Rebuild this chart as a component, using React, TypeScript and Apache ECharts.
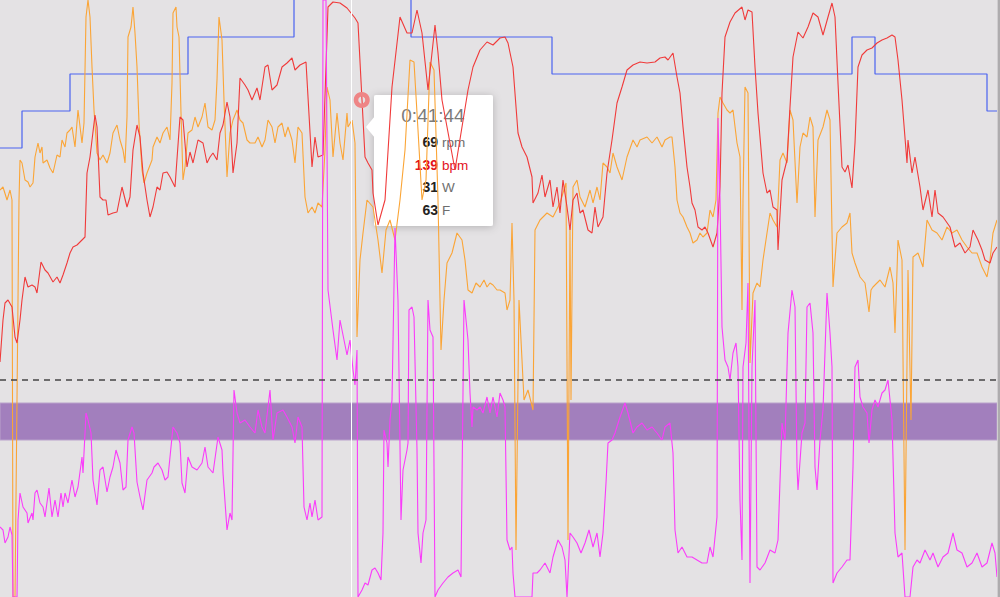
import React, { useEffect, useRef } from "react";
import * as echarts from "echarts";

// time axis: seconds since the start of the visible window (window starts at 0:18:20)
const HR: [number, number][] = [
[0,112.8],[12,117.0],[20,118.7],[32,119.0],[48,118.3],[60,115.3],[68,114.7],[80,117.0],[88,119.0],[100,121.3],[112,120.3],[128,120.5],[140,120.3],[148,119.7],[164,122.8],[180,122.0],[192,121.7],[212,120.8],[228,121.3],[240,120.7],[252,121.5],[268,122.7],[280,123.7],[292,124.3],[308,124.5],[328,125.0],[340,125.3],[348,131.7],[360,133.3],[380,137.5],[388,136.3],[400,129.3],[412,129.0],[424,129.0],[432,127.5],[452,127.7],[468,127.8],[488,130.3],[508,128.3],[520,129.3],[532,134.0],[548,136.5],[560,135.3],[572,131.7],[588,129.0],[600,127.3],[612,128.3],[628,130.3],[640,130.0],[652,131.7],[668,131.8],[680,131.3],[700,130.3],[720,137.3],[732,137.0],[748,132.3],[760,133.8],[772,132.7],[792,135.0],[812,134.7],[828,132.7],[840,133.3],[852,133.7],[868,133.0],[880,135.7],[892,136.5],[908,138.8],[920,137.3],[932,131.7],[948,134.7],[960,141.2],[980,140.5],[992,140.0],[1008,139.0],[1028,140.2],[1040,139.0],[1060,142.3],[1072,142.5],[1088,140.0],[1108,140.5],[1128,142.3],[1148,142.7],[1168,143.2],[1180,142.0],[1200,142.5],[1224,142.8],[1248,132.3],[1260,135.3],[1272,133.3],[1292,133.5],[1312,148.3],[1332,148.8],[1360,148.7],[1388,148.2],[1420,147.2],[1432,146.7],[1448,139.0],[1460,133.3],[1472,132.7],[1488,132.0],[1492,129.7],[1512,126.5],[1540,129.0],[1568,140.3],[1600,147.3],[1628,145.7],[1648,145.7],[1668,148.0],[1688,145.7],[1712,140.0],[1740,146.5],[1752,143.7],[1768,139.0],[1820,132.0],[1872,140.0],[1892,142.3],[1920,144.0],[1948,144.8],[1972,144.5],[2000,145.2],[2020,145.3],[2032,144.7],[2052,142.3],[2072,135.7],[2088,134.3],[2108,133.3],[2128,131.3],[2132,128.7],[2152,129.7],[2168,131.5],[2180,129.3],[2200,131.0],[2212,128.3],[2228,130.3],[2240,127.7],[2252,131.0],[2268,128.3],[2280,126.0],[2292,129.0],[2308,129.7],[2320,127.7],[2332,128.0],[2352,126.0],[2368,125.7],[2380,128.3],[2392,126.3],[2412,127.3],[2428,131.7],[2448,135.0],[2468,138.7],[2488,140.3],[2508,142.0],[2532,142.5],[2560,142.8],[2588,142.7],[2620,142.8],[2640,143.2],[2660,143.3],[2672,143.0],[2692,143.7],[2708,141.3],[2720,139.7],[2732,136.3],[2748,132.3],[2760,130.3],[2768,128.7],[2780,128.0],[2792,126.3],[2808,126.0],[2820,126.3],[2832,125.7],[2852,124.3],[2868,125.7],[2880,130.3],[2888,139.7],[2900,145.3],[2920,146.8],[2940,147.7],[2968,148.3],[2980,147.0],[2992,148.0],[3008,147.8],[3020,142.3],[3032,137.7],[3052,131.7],[3068,129.7],[3080,130.0],[3092,128.3],[3108,128.0],[3112,124.0],[3128,131.0],[3148,133.0],[3160,138.3],[3172,143.3],[3192,145.8],[3212,145.2],[3232,146.3],[3252,147.7],[3272,147.3],[3292,145.5],[3312,147.3],[3328,148.7],[3340,147.3],[3352,140.7],[3368,132.3],[3380,131.8],[3392,132.5],[3408,130.2],[3420,134.7],[3432,142.3],[3448,143.5],[3468,144.0],[3488,144.2],[3508,144.7],[3528,145.0],[3548,145.2],[3568,145.5],[3580,145.3],[3592,143.0],[3608,139.0],[3628,132.7],[3632,135.0],[3648,131.7],[3660,133.3],[3680,130.3],[3692,128.0],[3712,130.0],[3728,127.3],[3740,130.0],[3752,127.7],[3772,127.3],[3800,126.3],[3820,124.3],[3840,124.7],[3860,123.7],[3880,124.3],[3892,126.0],[3912,125.0],[3928,124.0],[3940,123.0],[3960,122.7],[3972,123.7],[3988,124.3]
];

const CADENCE: [number, number][] = [
[0,81.4],[12,82.0],[28,79.4],[40,81.4],[48,79.4],[52,0],[60,0],[68,39.4],[76,79.4],[80,87.4],[88,86.8],[100,83.4],[112,83.0],[120,82.0],[132,82.8],[140,88.0],[152,90.8],[160,88.8],[168,90.0],[172,86.8],[188,87.4],[200,85.8],[212,84.8],[228,88.4],[240,88.0],[248,91.4],[260,90.0],[268,92.8],[280,93.4],[288,94.0],[300,90.0],[312,97.4],[328,90.8],[336,94.8],[344,116.0],[352,119.4],[360,116.0],[368,106.0],[376,97.4],[388,88.8],[400,87.4],[412,88.4],[428,86.8],[440,88.8],[452,92.8],[468,94.4],[480,91.4],[492,89.4],[500,86.8],[508,96.0],[512,112.0],[524,114.0],[532,118.0],[540,112.8],[548,106.0],[556,94.8],[568,85.4],[576,82.8],[588,84.8],[608,87.4],[612,90.0],[628,92.0],[640,90.8],[652,92.8],[668,94.0],[680,91.4],[688,102.8],[692,116.8],[704,118.0],[708,114.0],[716,112.0],[724,96.8],[732,83.4],[740,86.0],[752,92.8],[768,93.4],[780,96.0],[792,94.0],[808,96.0],[820,98.8],[832,94.0],[848,93.4],[860,95.4],[868,103.4],[876,116.0],[888,111.4],[896,99.4],[908,84.0],[920,92.8],[932,95.4],[948,97.4],[960,95.4],[972,94.8],[988,91.4],[1000,90.8],[1020,90.8],[1032,92.0],[1048,90.0],[1060,91.4],[1072,95.4],[1088,94.0],[1100,90.8],[1112,94.0],[1128,94.8],[1140,92.0],[1152,94.0],[1168,91.4],[1180,86.8],[1192,94.0],[1208,92.8],[1220,80.0],[1232,76.8],[1248,78.0],[1260,76.8],[1272,78.8],[1288,78.0],[1300,89.4],[1308,102.0],[1320,99.4],[1332,88.0],[1348,96.8],[1360,90.8],[1372,87.4],[1388,96.8],[1392,94.0],[1408,95.4],[1420,90.8],[1428,52.0],[1440,67.4],[1452,72.8],[1468,79.4],[1492,78.0],[1512,71.4],[1528,64.8],[1544,73.4],[1560,75.4],[1580,71.4],[1600,79.4],[1620,89.4],[1640,107.4],[1656,107.0],[1672,93.4],[1688,79.4],[1704,83.4],[1720,107.0],[1736,105.4],[1752,79.4],[1764,49.4],[1776,59.4],[1788,66.8],[1808,68.8],[1828,72.8],[1848,71.4],[1860,67.4],[1872,61.4],[1888,60.8],[1904,62.8],[1920,62.0],[1936,63.4],[1948,62.0],[1960,62.8],[1972,62.4],[1988,61.4],[2000,61.4],[2020,60.8],[2028,57.4],[2040,59.4],[2048,74.8],[2056,59.4],[2064,9.4],[2076,59.4],[2096,39.4],[2112,41.4],[2132,37.4],[2140,73.4],[2160,75.4],[2188,76.8],[2212,76.0],[2240,78.8],[2264,82.8],[2272,11.4],[2280,74.0],[2284,39.4],[2292,82.0],[2308,83.4],[2320,80.0],[2340,78.0],[2360,81.4],[2372,78.8],[2388,82.0],[2400,79.4],[2412,86.8],[2428,86.0],[2440,84.8],[2452,88.8],[2468,86.0],[2488,83.4],[2508,88.0],[2532,91.4],[2548,90.0],[2560,91.4],[2588,92.0],[2608,90.8],[2628,92.0],[2648,90.0],[2660,91.4],[2680,92.0],[2688,92.0],[2700,86.0],[2708,79.4],[2720,76.8],[2732,76.0],[2748,74.0],[2760,72.8],[2772,70.8],[2788,71.4],[2800,72.8],[2812,72.0],[2828,72.8],[2840,77.4],[2852,76.0],[2864,79.4],[2872,96.8],[2880,100.0],[2892,98.8],[2908,97.4],[2920,96.8],[2932,97.4],[2948,90.8],[2960,88.0],[2968,57.4],[2972,79.4],[2980,102.0],[2992,100.8],[3000,46.8],[3012,60.8],[3028,62.8],[3040,62.0],[3052,67.4],[3068,72.8],[3080,76.8],[3092,75.4],[3108,74.0],[3120,87.4],[3132,88.8],[3148,86.8],[3160,97.4],[3172,95.4],[3188,78.8],[3200,90.0],[3212,92.8],[3228,92.0],[3240,96.0],[3252,94.0],[3260,76.0],[3272,91.4],[3292,94.0],[3308,97.4],[3320,95.4],[3332,62.0],[3348,72.8],[3368,74.0],[3388,74.8],[3400,76.8],[3408,68.8],[3420,66.8],[3440,64.0],[3460,62.8],[3476,57.0],[3484,61.4],[3492,62.0],[3520,63.4],[3540,62.0],[3560,66.0],[3572,62.8],[3580,52.8],[3592,71.4],[3608,67.4],[3620,9.4],[3632,65.4],[3644,35.4],[3652,68.0],[3672,68.8],[3692,66.0],[3708,75.4],[3728,73.4],[3748,72.8],[3768,71.4],[3788,74.0],[3808,72.8],[3828,73.4],[3848,71.4],[3868,70.0],[3888,68.8],[3908,68.8],[3928,66.0],[3948,64.0],[3960,67.4],[3972,72.8],[3988,75.4]
];

const POWER: [number, number][] = [
[0,70],[12,67],[20,54],[32,60],[40,70],[48,62],[52,0],[68,0],[72,77],[80,104],[92,90],[108,84],[112,74],[128,84],[132,77],[140,104],[148,107],[160,94],[172,90],[180,80],[196,109],[208,80],[220,97],[232,80],[244,104],[252,90],[260,104],[272,94],[288,117],[300,100],[312,110],[328,140],[332,124],[344,184],[352,177],[364,164],[372,117],[388,92],[400,127],[412,130],[428,105],[440,120],[452,130],[464,147],[480,134],[492,107],[504,110],[512,157],[528,170],[536,164],[548,115],[560,100],[572,87],[588,117],[608,124],[616,130],[632,134],[648,127],[660,117],[672,120],[684,150],[692,170],[708,164],[720,154],[728,114],[740,104],[752,140],[768,130],[788,127],[808,134],[820,150],[832,130],[852,124],[872,160],[888,147],[892,124],[908,67],[920,84],[928,77],[936,207],[948,184],[960,174],[980,177],[1000,170],[1020,164],[1032,187],[1048,170],[1060,164],[1080,207],[1092,157],[1108,184],[1132,187],[1148,180],[1168,170],[1180,154],[1192,180],[1208,170],[1216,90],[1228,77],[1240,94],[1248,80],[1260,97],[1272,77],[1288,80],[1292,597],[1304,597],[1312,307],[1332,267],[1348,237],[1360,277],[1372,262],[1388,242],[1400,257],[1412,227],[1420,212],[1428,247],[1432,0],[1448,7],[1460,14],[1472,12],[1488,27],[1500,29],[1512,24],[1524,17],[1532,64],[1536,167],[1548,154],[1552,130],[1560,177],[1568,197],[1580,369],[1592,297],[1604,77],[1612,127],[1628,147],[1632,154],[1636,287],[1648,290],[1656,280],[1668,147],[1672,64],[1684,34],[1692,64],[1704,77],[1712,297],[1720,267],[1732,260],[1740,0],[1752,7],[1772,14],[1792,20],[1812,24],[1832,27],[1844,20],[1856,297],[1864,277],[1872,257],[1880,204],[1888,170],[1892,190],[1908,187],[1920,190],[1932,184],[1948,200],[1960,184],[1972,200],[1988,180],[2000,204],[2012,197],[2020,190],[2028,57],[2040,47],[2048,50],[2052,24],[2060,0],[2128,0],[2132,24],[2148,24],[2160,27],[2180,34],[2200,24],[2212,40],[2232,57],[2248,50],[2260,37],[2268,0],[2280,64],[2292,60],[2308,54],[2324,44],[2340,54],[2356,67],[2372,50],[2388,64],[2400,40],[2412,64],[2424,114],[2432,154],[2448,157],[2460,164],[2480,180],[2500,194],[2512,184],[2532,164],[2548,170],[2568,174],[2588,167],[2608,170],[2628,164],[2648,157],[2660,170],[2680,174],[2692,144],[2700,67],[2712,44],[2728,50],[2748,40],[2768,40],[2788,37],[2808,34],[2828,34],[2840,50],[2852,40],[2868,80],[2872,479],[2880,397],[2888,270],[2900,237],[2912,230],[2920,217],[2932,244],[2944,254],[2952,230],[2960,97],[2968,37],[2972,230],[2984,254],[2992,314],[3000,14],[3008,230],[3020,297],[3028,30],[3040,27],[3060,34],[3080,47],[3100,44],[3112,57],[3128,174],[3140,157],[3152,264],[3168,307],[3180,290],[3188,130],[3192,107],[3208,164],[3220,174],[3228,290],[3240,294],[3252,264],[3260,130],[3268,107],[3280,157],[3292,187],[3308,304],[3320,264],[3328,230],[3332,14],[3348,24],[3368,30],[3388,37],[3400,37],[3412,130],[3420,230],[3432,237],[3440,200],[3452,190],[3468,184],[3476,154],[3488,187],[3500,197],[3512,190],[3528,204],[3540,207],[3552,217],[3568,177],[3580,64],[3592,40],[3608,44],[3620,0],[3640,0],[3652,30],[3668,37],[3680,34],[3700,47],[3720,37],[3732,44],[3752,30],[3772,40],[3792,44],[3812,64],[3828,47],[3848,44],[3868,30],[3888,34],[3908,44],[3928,30],[3948,34],[3968,54],[3980,44],[3988,20]
];

const TEMP: [number, number][] = [
[0,58],[88,59],[280,60],[752,61],[1176,63],[1644,61],[2208,60],[3408,61],[3500,60],[3948,59],[3988,59]
];

const WINDOW_END = 3988;
const CURSOR_T = 1404;
const FOCUS_POINT: [number, number] = [1447, 139];
const THRESHOLD_W = 217;
const ZONE_W: [number, number] = [157, 194];
const TIP_TIME = "0:41:44";
const TIP_ROWS = [
  { value: "69", unit: "rpm", valueColor: "#222222", unitColor: "#6e6e6e" },
  { value: "139", unit: "bpm", valueColor: "#e3121c", unitColor: "#e3121c" },
  { value: "31", unit: "W", valueColor: "#222222", unitColor: "#6e6e6e" },
  { value: "63", unit: "F", valueColor: "#222222", unitColor: "#6e6e6e" },
];

const FONT = "'Liberation Sans', Arial, Helvetica, sans-serif";

export default function App() {
  const ref = useRef<HTMLDivElement>(null);
  useEffect(() => {
    if (!ref.current) return;
    const chart = echarts.init(ref.current, undefined, { renderer: "svg" });
    const lineBase = {
      type: "line" as const,
      showSymbol: false,
      symbol: "none",
      silent: true,
      smooth: false,
      emphasis: { disabled: true },
    };
    const rowY = [142, 165, 187, 210];
    const tipChildren: any[] = [
      {
        type: "rect",
        shape: { x: 374, y: 95, width: 119, height: 131, r: 2 },
        style: { fill: "#ffffff", shadowBlur: 8, shadowColor: "rgba(0,0,0,0.22)", shadowOffsetY: 1 },
      },
      {
        type: "polygon",
        shape: { points: [[375, 116], [366, 127], [375, 138]] },
        style: { fill: "#ffffff" },
      },
      {
        type: "text",
        x: 433,
        y: 115,
        style: { text: TIP_TIME, fontSize: 19, fill: "#7b7b7b", align: "center", verticalAlign: "middle", fontFamily: FONT },
      },
    ];
    TIP_ROWS.forEach((r, i) => {
      tipChildren.push({
        type: "text",
        x: 438,
        y: rowY[i],
        style: { text: r.value, fontSize: 14, fontWeight: "bold", fill: r.valueColor, align: "right", verticalAlign: "middle", fontFamily: FONT },
      });
      tipChildren.push({
        type: "text",
        x: 442,
        y: rowY[i],
        style: { text: r.unit, fontSize: 13.5, fill: r.unitColor, align: "left", verticalAlign: "middle", fontFamily: FONT },
      });
    });

    chart.setOption({
      animation: false,
      backgroundColor: "#e4e2e4",
      grid: { left: 0, right: 3, top: 0, bottom: 0 },
      xAxis: { type: "value", min: 0, max: WINDOW_END, show: false },
      yAxis: [
        { type: "value", min: 89.3, max: 149, show: false },
        { type: "value", min: 0, max: 119.4, show: false },
        { type: "value", min: 0, max: 597, show: false },
        { type: "value", min: 62 - 597 / 37, max: 62, show: false },
      ],
      series: [
        {
          ...lineBase,
          name: "zones",
          data: [],
          yAxisIndex: 2,
          z: 1,
          markArea: {
            silent: true,
            itemStyle: { color: "#a27fbd", borderColor: "#b9a2cb", borderWidth: 1 },
            data: [[{ yAxis: ZONE_W[0] }, { yAxis: ZONE_W[1] }]],
          },
          markLine: {
            silent: true,
            symbol: ["none", "none"],
            label: { show: false },
            lineStyle: { color: "#444444", width: 1.5, type: [6, 5] },
            data: [{ yAxis: THRESHOLD_W }],
          },
        },
        {
          ...lineBase,
          name: "F",
          data: TEMP,
          yAxisIndex: 3,
          step: "end",
          lineStyle: { color: "#4a63f0", width: 1.2 },
        },
        {
          ...lineBase,
          name: "rpm",
          data: CADENCE,
          yAxisIndex: 1,
          lineStyle: { color: "#fba536", width: 1.1 },
        },
        {
          ...lineBase,
          name: "bpm",
          data: HR,
          yAxisIndex: 0,
          lineStyle: { color: "#f03a3a", width: 1.1 },
          markPoint: {
            silent: true,
            symbol: "circle",
            symbolSize: 11.5,
            label: { show: false },
            itemStyle: { color: "rgba(0,0,0,0)", borderColor: "#ee8586", borderWidth: 4.5 },
            data: [{ coord: FOCUS_POINT }],
          },
        },
        {
          ...lineBase,
          name: "W",
          data: POWER,
          yAxisIndex: 2,
          lineStyle: { color: "#fa3cfa", width: 1.1 },
          markLine: {
            silent: true,
            symbol: ["none", "none"],
            label: { show: false },
            lineStyle: { color: "#ffffff", width: 1, type: "solid" },
            data: [{ xAxis: CURSOR_T }],
          },
        },
      ],
      graphic: [
        { type: "rect", shape: { x: 997, y: 0, width: 1, height: 597 }, style: { fill: "#d0ced0" }, z: 100 },
        { type: "rect", shape: { x: 998, y: 0, width: 2, height: 597 }, style: { fill: "#aeacae" }, z: 100 },
        { type: "group", children: tipChildren, z: 100 },
      ],
    });
    return () => chart.dispose();
  }, []);
  return <div ref={ref} style={{ position: "fixed", left: 0, top: 0, width: 1000, height: 597 }} />;
}
